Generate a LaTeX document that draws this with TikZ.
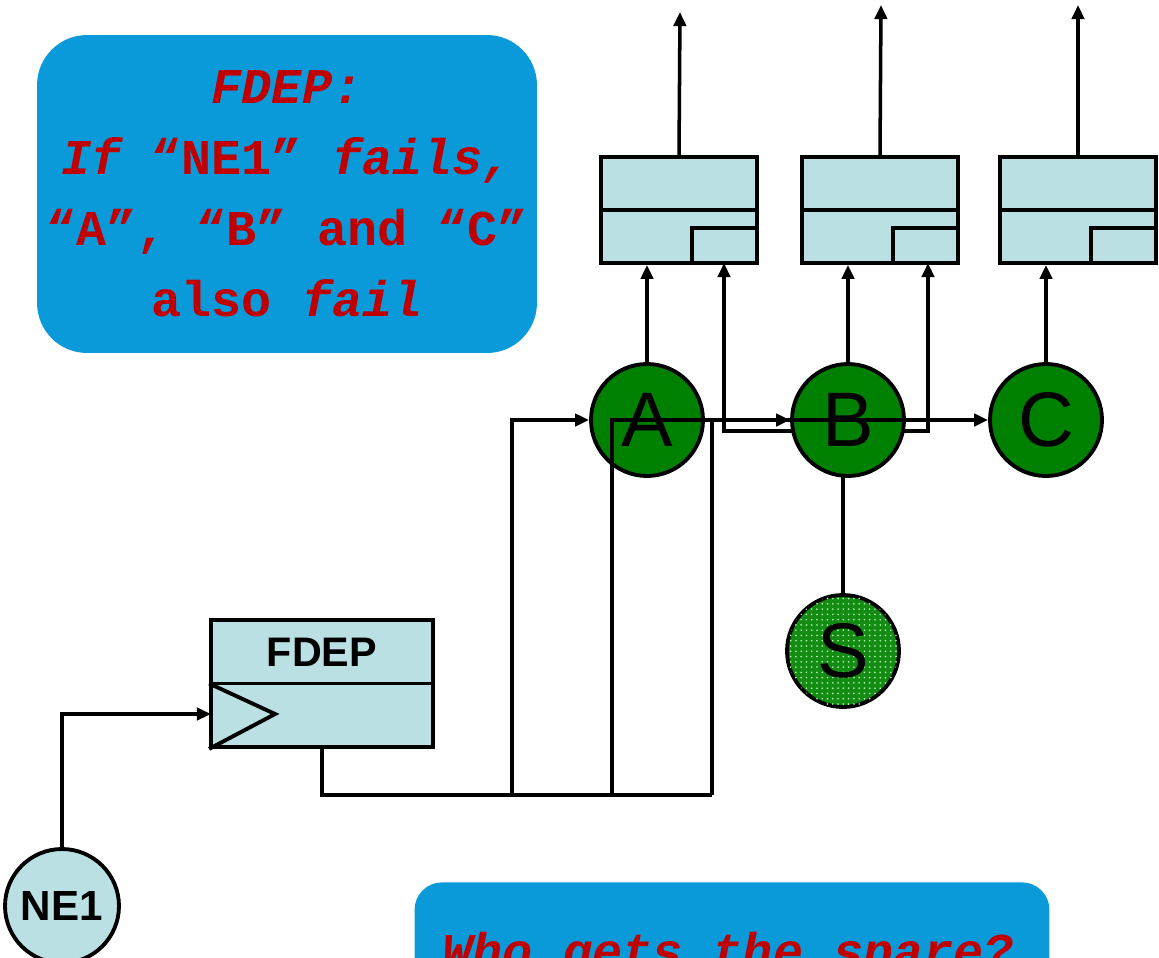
\documentclass[tikz,border=0pt]{standalone}
\usepackage{fontspec}
\setmainfont{Liberation Sans}
\newfontfamily\courier{Liberation Mono}
\usetikzlibrary{arrows.meta,positioning,patterns,calc}

\definecolor{boxblue}{RGB}{10,154,217}
\definecolor{gatefill}{RGB}{186,224,227}
\definecolor{evgreen}{RGB}{0,128,0}
\definecolor{sparegreen}{RGB}{20,140,20}
\definecolor{textred}{RGB}{192,0,0}

\begin{document}
\begin{tikzpicture}[x=0.02cm, y=-0.02cm,
    gate/.style={draw, line width=2.2pt, fill=gatefill, minimum width=3.12cm, minimum height=2.12cm, inner sep=0pt},
    event/.style={circle, draw, line width=2.2pt, fill=evgreen, minimum size=2.24cm, inner sep=0pt, font=\fontsize{44}{44}\selectfont},
    wire/.style={line width=2pt},
    arr/.style={wire, -{Triangle[length=8pt,width=7pt]}},
    note/.style={fill=boxblue, rounded corners=1cm, text=textred, align=center, inner sep=0pt,
      font=\courier\bfseries\fontsize{28.5}{40.5}\selectfont}]
  \useasboundingbox (0,0) rectangle (1159,957);
  \clip (0,0) rectangle (1159,957);

  % Notes
  \node[note, minimum width=10cm, minimum height=6.36cm] (rule) at (287,194) {};
  \node[note, fill=none] (ruletext) at (287,194)
    {{\itshape FDEP:}\\ {\itshape If} “NE1” {\itshape fails,}\\ “A”, “B” and “C”\\ also {\itshape fail}};
  \node[note, rounded corners=0.55cm, minimum width=12.7cm, minimum height=4cm, anchor=north] (spare) at (732,882) {};
  \node[text=textred, font=\courier\bfseries\fontsize{28.5}{28.5}\selectfont, anchor=base] (question) at (728,968)
    {\itshape Who gets the spare?};

  % Spare gates
  \node[gate] (g1) at (679,210) {};
  \node[gate] (g2) at (880,210) {};
  \node[gate] (g3) at (1078,210) {};
  \foreach \g in {g1,g2,g3} {
    \draw[line width=2.2pt] (\g.west) -- (\g.east);
    \draw[line width=2.2pt] ([xshift=-1.34cm]\g.south east) |- ([yshift=0.74cm]\g.south east);
  }
  \coordinate (o1) at (680,12);
  \coordinate (o2) at (881,5);
  \coordinate (o3) at (1078,5);
  \draw[arr] (g1.north) -- (o1);
  \draw[arr] (g2.north) -- (o2);
  \draw[arr] (g3.north) -- (o3);

  % Shared spare
  \node[event, fill=sparegreen, postaction={pattern=dots, pattern color=green!25!white}] (S) at (843,651) {S};
  \coordinate (sp) at (843,431);
  \coordinate (in1) at (724,263);
  \coordinate (in2) at (928,263);
  \draw[wire] (S.north) -- (sp);
  \draw[arr] (sp) -| (in1);
  \draw[arr] (sp) -| (in2);

  % Primaries
  \node[event] (A) at (647,420) {A};
  \node[event] (B) at (848,420) {B};
  \node[event] (C) at (1046,420) {C};
  \draw[arr] (A.north) -- (A.north |- g1.south);
  \draw[arr] (B.north) -- (B.north |- g2.south);
  \draw[arr] (C.north) -- (C.north |- g3.south);

  % FDEP gate and trigger
  \node[gate, minimum width=4.44cm, minimum height=2.54cm] (fdep) at (322,683.5) {};
  \node[font=\bfseries\fontsize{23.5}{23.5}\selectfont] (fdeplabel) at (322,652) {FDEP};
  \draw[line width=2.2pt] (fdep.west) -- (fdep.east);
  \draw[line width=2.2pt, line join=miter] (fdep.west) -- ++(66,30.5) -- (fdep.south west);
  \node[circle, draw, line width=2.2pt, fill=gatefill, minimum size=2.28cm, inner sep=0pt,
    font=\bfseries\fontsize{24}{24}\selectfont] (NE1) at (62,906) {NE1};
  \coordinate (trig) at (211,714);
  \draw[arr] (NE1.north) |- (trig);

  % Dependent events
  \coordinate (t1) at (512,795);
  \coordinate (t2) at (612,795);
  \coordinate (t3) at (712,795);
  \draw[wire] (fdep.south) |- (t3);
  \draw[arr] (t1) |- (A.west);
  \draw[arr] (t2) |- (B.west);
  \draw[arr] (t3) |- (C.west);
\end{tikzpicture}
\end{document}
